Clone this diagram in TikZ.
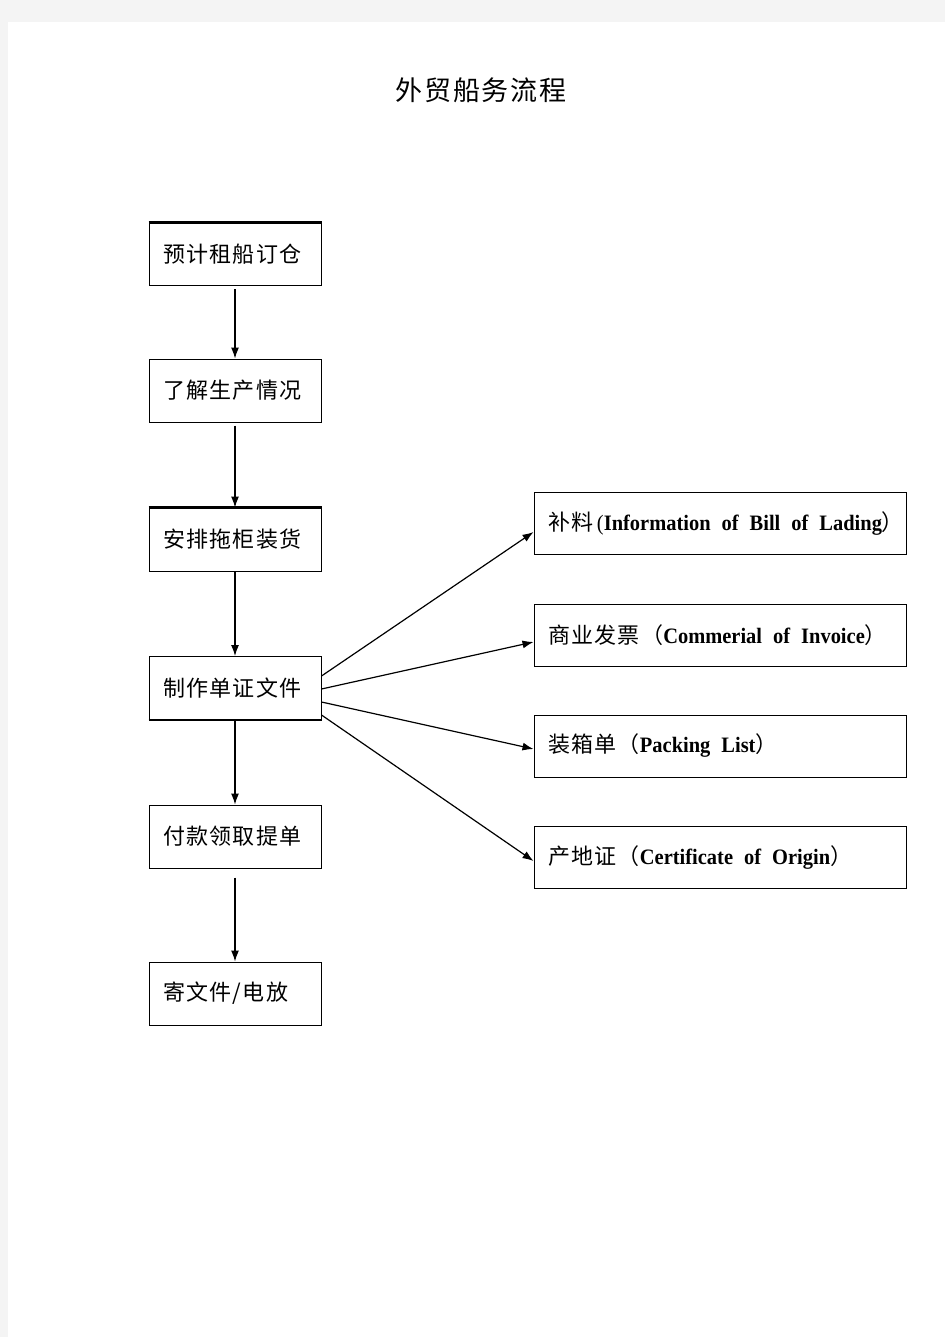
\documentclass[tikz,border=0pt]{standalone}
\usepackage{fontspec}
\setmainfont{Liberation Serif}
\newfontfamily\cjk{Noto Sans CJK SC}
\newfontfamily\cjkw[LetterSpace=6]{Noto Sans CJK SC}
\newfontfamily\en[FakeStretch=0.93]{Liberation Serif}
\usetikzlibrary{arrows.meta,calc}
\newcommand{\entxt}[1]{{\en\bfseries\fontsize{22}{24}\selectfont\spaceskip=11pt plus 1pt #1}}
\begin{document}
\begin{tikzpicture}[x=1pt,y=-1pt,
  lbox/.style={draw=black,line width=1pt,minimum width=172pt,minimum height=63pt,
    inner xsep=14pt,inner ysep=0pt,text width=144pt,align=left,
    font=\cjkw\fontsize{22}{24}\selectfont},
  rbox/.style={draw=black,line width=1pt,minimum width=372pt,minimum height=62pt,
    inner xsep=14pt,inner ysep=0pt,text width=344pt,align=left,
    font=\cjkw\fontsize{22}{24}\selectfont},
  arr/.style={-{Latex[length=11pt,width=8pt]},line width=1.2pt},
  thick edge/.style={line width=2.2pt}]
% page
\fill[fill={rgb,255:red,244;green,244;blue,244}] (0,0) rectangle (945,1337);
\fill[white] (8,22) rectangle (945,1337);
\useasboundingbox (0,0) rectangle (945,1337);
% title
\node[font=\cjkw\fontsize{27}{30}\selectfont] (title) at (481,90) {外贸船务流程};
% left boxes
\node[lbox] (b1) at (235,254.5) {预计租船订仓};
\node[lbox] (b2) at (235,390.5) {了解生产情况};
\node[lbox] (b3) at (235,539.5) {安排拖柜装货};
\node[lbox] (b4) at (235,688) {制作单证文件};
\node[lbox] (b5) at (235,836.5) {付款领取提单};
\node[lbox] (b6) at (235,993.5) {寄文件/电放};
% thicker edges as in reference
\draw[thick edge] (b1.north west) -- (b1.north east);
\draw[thick edge] (b3.north west) -- (b3.north east);
\draw[thick edge] (b4.south west) -- (b4.south east);
% right boxes
\node[rbox] (r1) at (720,523.5) {\mbox{补料{\en\fontsize{22}{24}\selectfont\,(}\entxt{Information of Bill of Lading}）}};
\node[rbox] (r2) at (720,635) {\mbox{商业发票（\entxt{Commerial of Invoice}）}};
\node[rbox] (r3) at (720,746) {\mbox{装箱单（\entxt{Packing List}）}};
\node[rbox] (r4) at (720,857.5) {\mbox{产地证（\entxt{Certificate of Origin}）}};
% vertical arrows
\draw[arr,shorten <=3pt] (b1) -- (b2);
\draw[arr,shorten <=3pt] (b2) -- (b3);
\draw[arr] (b3) -- (b4);
\draw[arr] (b4) -- (b5);
\draw[arr,shorten <=9pt] (b5) -- (b6);
% fan-out arrows
\draw[arr] ($(b4.north east)+(0,20)$) -- ($(r1.west)+(0,8.5)$);
\draw[arr] ($(b4.north east)+(0,33)$) -- ($(r2.west)+(0,7)$);
\draw[arr] ($(b4.north east)+(0,46)$) -- ($(r3.west)+(0,3)$);
\draw[arr] ($(b4.north east)+(0,59)$) -- ($(r4.west)+(0,3.5)$);
\end{tikzpicture}
\end{document}
